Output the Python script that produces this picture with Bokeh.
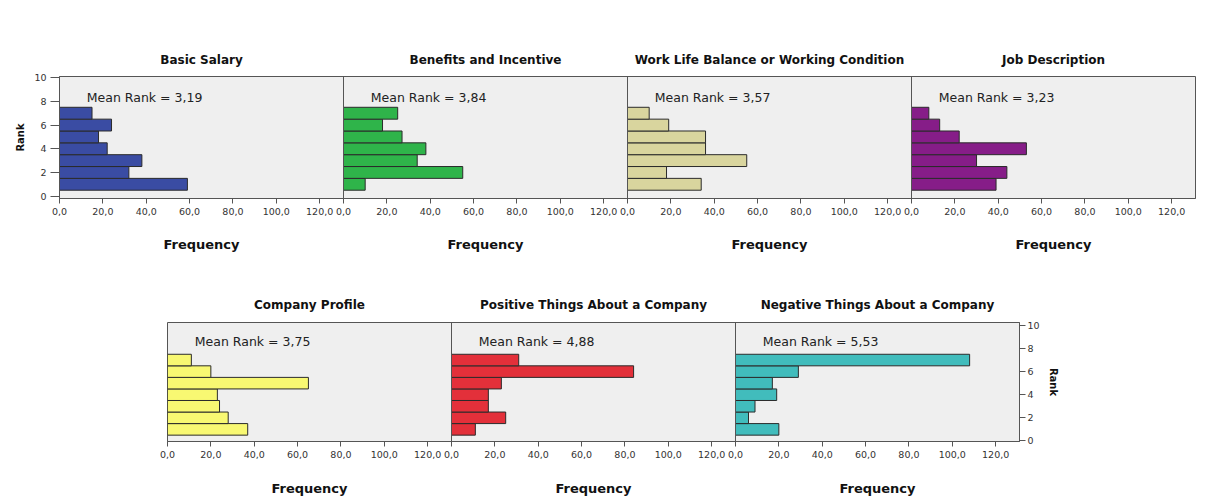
from bokeh.plotting import figure
from bokeh.models import Span, Label, FixedTicker, Range1d, LinearAxis
from bokeh.embed import file_html
from bokeh.resources import INLINE

# ---------------- data ----------------
ranks = [1, 2, 3, 4, 5, 6, 7]

titles_top = ["Basic Salary", "Benefits and Incentive",
              "Work Life Balance or Working Condition", "Job Description"]
titles_bottom = ["Company Profile", "Positive Things About a Company",
                 "Negative Things About a Company"]

basic_salary = [59, 32, 38, 22, 18, 24, 15]
benefits_incentive = [10, 55, 34, 38, 27, 18, 25]
work_life_balance = [34, 18, 55, 36, 36, 19, 10]
job_description = [39, 44, 30, 53, 22, 13, 8]
company_profile = [37, 28, 24, 23, 65, 20, 11]
positive_things = [11, 25, 17, 17, 23, 84, 31]
negative_things = [20, 6, 9, 19, 17, 29, 108]

mean_top = ["3,19", "3,84", "3,57", "3,23"]
mean_bottom = ["3,75", "4,88", "5,53"]

colors_top = ["#3a4ca3", "#2fb44a", "#d9d59e", "#861d88"]
colors_bottom = ["#f8f872", "#e3303a", "#41bcbc"]

freq_ticks = [0, 20, 40, 60, 80, 100, 120]
freq_labels = ["0,0", "20,0", "40,0", "60,0", "80,0", "100,0", "120,0"]
rank_ticks = [0, 2, 4, 6, 8, 10]

PANEL_W = 131  # width of one panel in frequency units
FONT = "DejaVu Sans"
DARK = "#555555"


def plain_axis(ax):
    ax.axis_line_color = None
    ax.major_tick_line_color = None
    ax.minor_tick_line_color = None
    ax.major_tick_in = 0
    ax.major_tick_out = 0


def make_row(titles, series, means, colors, axis_side, y_rng, frame_w, frame_h,
             b_left, b_right, b_top, b_bottom, title_standoff, freq_standoff, mean_y,
             rank_standoff, y_tick_out, y_label_standoff):
    n = len(titles)
    p = figure(width=b_left + frame_w + b_right, height=b_top + frame_h + b_bottom,
               x_range=Range1d(0, n * PANEL_W), y_range=Range1d(*y_rng),
               y_axis_location=axis_side, output_backend="svg", toolbar_location=None,
               min_border_left=b_left, min_border_right=b_right,
               min_border_top=b_top, min_border_bottom=b_bottom)
    p.background_fill_color = "#efefef"
    p.border_fill_color = "white"
    p.outline_line_color = DARK
    p.grid.visible = False

    ticks, overrides = [], {}
    centers, title_over, freq_over = [], {}, {}
    for k in range(n):
        off = k * PANEL_W
        vals = series[k]
        p.hbar(y=ranks, left=[off] * len(vals), right=[off + v for v in vals], height=1,
               fill_color=colors[k], line_color="#2b2b2b", line_width=1)
        if k > 0:
            p.add_layout(Span(location=off, dimension="height", line_color=DARK, line_width=1))
        for t, lab in zip(freq_ticks, freq_labels):
            ticks.append(off + t)
            overrides[off + t] = lab
        c = off + PANEL_W / 2
        centers.append(c)
        title_over[c] = titles[k]
        freq_over[c] = "Frequency"
        p.add_layout(Label(x=off + 12.6, y=mean_y, text="Mean Rank = " + means[k],
                           text_align="left", text_baseline="middle", text_font=FONT,
                           text_font_size="12.5px", text_color="#222222"))

    xa = p.xaxis[0]
    xa.ticker = FixedTicker(ticks=ticks)
    xa.major_label_overrides = overrides
    xa.major_label_text_font = FONT
    xa.major_label_text_font_size = "9.5px"
    xa.major_label_text_color = "#333333"
    xa.axis_line_color = DARK
    xa.major_tick_line_color = DARK
    xa.major_tick_in = 0
    xa.major_tick_out = 5
    xa.minor_tick_line_color = None
    xa.major_label_standoff = 4

    # panel captions ("Frequency") drawn as a second, line-less axis below
    fa = LinearAxis(ticker=FixedTicker(ticks=centers), major_label_overrides=freq_over)
    plain_axis(fa)
    fa.major_label_text_font = FONT
    fa.major_label_text_font_style = "bold"
    fa.major_label_text_font_size = "13px"
    fa.major_label_text_color = "#111111"
    fa.major_label_standoff = freq_standoff
    p.add_layout(fa, "below")

    # panel titles drawn as a line-less axis above
    ta = LinearAxis(ticker=FixedTicker(ticks=centers), major_label_overrides=title_over)
    plain_axis(ta)
    ta.major_label_text_font = FONT
    ta.major_label_text_font_style = "bold"
    ta.major_label_text_font_size = "12px"
    ta.major_label_text_color = "#111111"
    ta.major_label_standoff = title_standoff
    p.add_layout(ta, "above")

    ya = p.yaxis[0]
    ya.ticker = FixedTicker(ticks=rank_ticks)
    ya.axis_label = "Rank"
    ya.axis_label_text_font = FONT
    ya.axis_label_text_font_style = "bold"
    ya.axis_label_text_font_size = "10px"
    ya.axis_label_text_color = "#111111"
    ya.axis_label_standoff = rank_standoff
    ya.major_label_text_font = FONT
    ya.major_label_text_font_size = "9.5px"
    ya.major_label_text_color = "#333333"
    ya.axis_line_color = DARK
    ya.major_tick_line_color = DARK
    ya.major_tick_in = 0
    ya.major_tick_out = y_tick_out
    ya.minor_tick_line_color = None
    ya.major_label_standoff = y_label_standoff
    return p


top = make_row(titles_top,
               [basic_salary, benefits_incentive, work_life_balance, job_description],
               mean_top, colors_top, "left", (-0.2, 10.1), 1136, 122,
               59, 20, 76, 67, 10, 19, 8.35, 5, 9, 4)

bottom = make_row(titles_bottom,
                  [company_profile, positive_things, negative_things],
                  mean_bottom, colors_bottom, "right", (-0.05, 10.25), 852, 120,
                  167, 50, 57, 56, 11, 20, 8.6, 5, 6, 2)

open("out.html", "w").write(file_html([top, bottom], INLINE))
